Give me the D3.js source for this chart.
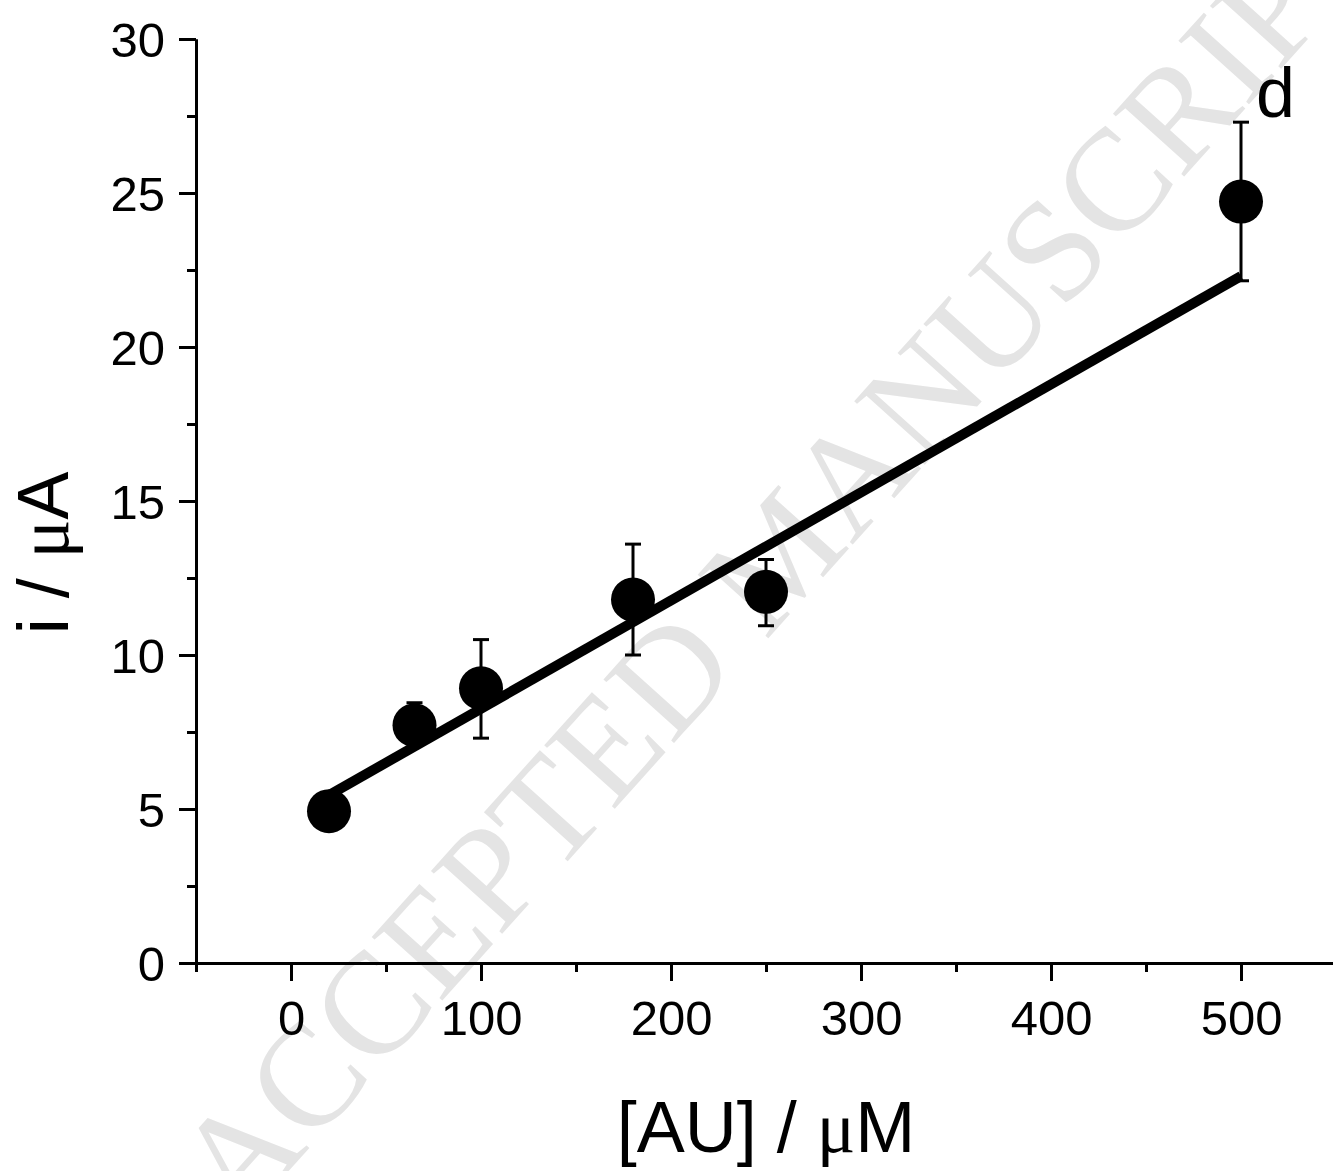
<!DOCTYPE html>
<html>
<head>
<meta charset="utf-8">
<script src="https://cdn.jsdelivr.net/npm/d3@7"></script>
<style>
  html, body { margin: 0; padding: 0; background: #fff; }
  svg { display: block; }
</style>
</head>
<body>
<svg id="chart" width="1333" height="1171"></svg>
<script>
// ---- data ----
const concentrations = [20, 65, 100, 180, 250, 500];          // [AU] / µM
const currents       = [4.93, 7.72, 8.92, 11.8, 12.05, 24.72]; // i / µA
const errUpper       = [5.2, 8.45, 10.5, 13.6, 13.1, 27.3];
const errLower       = [4.7, 7.2, 7.3, 10.0, 10.95, 22.15];
const fitX           = [20, 500];
const fitY           = [5.45, 22.3];
const xTicksMajor    = [0, 100, 200, 300, 400, 500];
const xTicksMinor    = [-50, 50, 150, 250, 350, 450, 550];
const yTicksMajor    = [0, 5, 10, 15, 20, 25, 30];
const yTicksMinor    = [2.5, 7.5, 12.5, 17.5, 22.5, 27.5];
const xTitle = "[AU] / ";
const yTitle = "i / ";
const panelLabel = "d";
const watermark = "ACCEPTED MANUSCRIPT";

const svg = d3.select("#chart");
const x = d3.scaleLinear().domain([-50, 550]).range([196, 1336]);
const y = d3.scaleLinear().domain([0, 30]).range([963, 39]);
const font = "Liberation Sans, Arial, Helvetica, sans-serif";

// watermark
svg.append("text")
  .attr("transform", "translate(240,1225) rotate(-48)")
  .attr("font-family", "Liberation Serif, Times New Roman, serif")
  .attr("font-size", 145)
  .attr("fill", "#e4e4e4")
  .text(watermark);

// axes
const axisStroke = 3;
const gx = svg.append("g").attr("transform", `translate(0,${y(0)})`);
gx.call(d3.axisBottom(x).tickValues(xTicksMajor).tickSize(18).tickSizeOuter(0).tickFormat(d3.format("d")));
gx.append("g").call(d3.axisBottom(x).tickValues(xTicksMinor).tickSize(9).tickSizeOuter(0).tickFormat(""));
gx.selectAll(".domain").attr("stroke-width", axisStroke).attr("stroke", "#000");
gx.selectAll("g.tick line").attr("stroke-width", axisStroke).attr("stroke", "#000");
gx.selectAll("g.tick text").attr("font-family", font).attr("font-size", 49).attr("fill", "#000").attr("dy", "0").attr("y", 72);

const gy = svg.append("g").attr("transform", `translate(${x(-50)},0)`);
gy.call(d3.axisLeft(y).tickValues(yTicksMajor).tickSize(17).tickSizeOuter(0).tickFormat(d3.format("d")));
gy.append("g").call(d3.axisLeft(y).tickValues(yTicksMinor).tickSize(9).tickSizeOuter(0).tickFormat(""));
gy.selectAll(".domain").attr("stroke-width", axisStroke).attr("stroke", "#000");
gy.selectAll("g.tick line").attr("stroke-width", axisStroke).attr("stroke", "#000");
gy.selectAll("g.tick text").attr("font-family", font).attr("font-size", 49).attr("fill", "#000").attr("x", -31).attr("dy", "0.36em");

// fit line
const fitData = fitX.map((v, i) => [v, fitY[i]]);
svg.append("path")
  .datum(fitData)
  .attr("d", d3.line().x(d => x(d[0])).y(d => y(d[1])))
  .attr("stroke", "#000").attr("stroke-width", 10).attr("fill", "none");

// data points
const pts = concentrations.map((c, i) => ({c, v: currents[i], hi: errUpper[i], lo: errLower[i]}));
const eb = svg.append("g").attr("stroke", "#000").attr("stroke-width", 3);
const cap = 8;
pts.forEach(p => {
  eb.append("line").attr("x1", x(p.c)).attr("x2", x(p.c)).attr("y1", y(p.hi)).attr("y2", y(p.lo));
  eb.append("line").attr("x1", x(p.c) - cap).attr("x2", x(p.c) + cap).attr("y1", y(p.hi)).attr("y2", y(p.hi));
  eb.append("line").attr("x1", x(p.c) - cap).attr("x2", x(p.c) + cap).attr("y1", y(p.lo)).attr("y2", y(p.lo));
});
svg.append("g").selectAll("circle").data(pts).join("circle")
  .attr("cx", d => x(d.c)).attr("cy", d => y(d.v)).attr("r", 22).attr("fill", "#000");

// titles
const xt = svg.append("text")
  .attr("x", 766).attr("y", 1152).attr("text-anchor", "middle")
  .attr("font-family", font).attr("font-size", 72).attr("fill", "#000");
xt.append("tspan").text(xTitle);
xt.append("tspan").attr("font-family", "Liberation Serif, Times New Roman, serif").text("\u03BC");
xt.append("tspan").text("M");

const yt = svg.append("text")
  .attr("transform", "translate(68,553) rotate(-90)").attr("text-anchor", "middle")
  .attr("font-family", font).attr("font-size", 72).attr("fill", "#000");
yt.append("tspan").text(yTitle);
yt.append("tspan").attr("font-family", "Liberation Serif, Times New Roman, serif").text("\u03BC");
yt.append("tspan").text("A");

svg.append("text")
  .attr("x", 1256).attr("y", 117)
  .attr("font-family", font).attr("font-size", 70).attr("fill", "#000")
  .text(panelLabel);
</script>
</body>
</html>
